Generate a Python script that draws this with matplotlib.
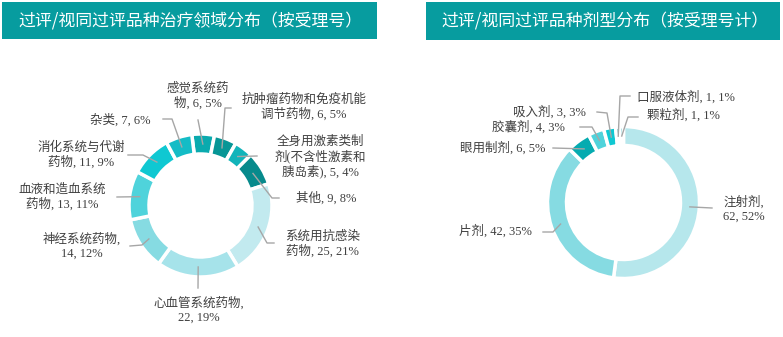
"""
    过评/视同过评品种分布：治疗领域 + 剂型，两个环形图
"""
import matplotlib.pyplot as plt
import numpy as np
from matplotlib.patches import Rectangle

plt.rcParams['font.family'] = ['Liberation Serif', 'Noto Sans CJK SC']

# 治疗领域（按受理号）
area_names = ["感觉系统药物", "抗肿瘤药物和免疫机能调节药物", "全身用激素类制剂(不含性激素和胰岛素)",
              "其他", "系统用抗感染药物", "心血管系统药物", "神经系统药物",
              "血液和造血系统药物", "消化系统与代谢药物", "杂类"]
area_counts = [6, 6, 5, 9, 25, 22, 14, 13, 11, 7]
area_colors = ["#0aaaae", "#079696", "#12b4ba", "#078a8c", "#c2eaef",
               "#a6e3ea", "#86dbe2", "#4fd3db", "#0fc8d2", "#14bcc6"]

# 剂型（按受理号计）
form_names = ["注射剂", "片剂", "眼用制剂", "胶囊剂", "吸入剂", "口服液体剂", "颗粒剂"]
form_counts = [62, 42, 6, 4, 3, 1, 1]
form_colors = ["#b6e7ec", "#86dbe2", "#05abb0", "#4fd3db", "#0fc8d2", "#0a9a9c", "#42b6bc"]

W, H = 783, 337
TEXT = "#404040"
LINE = "#a6a6a6"


def px(x, y):
    # pixel position (y from top) -> data coords
    return x, H - y


# label layout: text position, alignment, where the name wraps, leader path
area_layout = [
    ((198, 96), "center", "感觉系统药\n物", [(198, 120)]),
    ((304, 107), "center", "抗肿瘤药物和免疫机能\n调节药物", [(225, 108), (231, 108)]),
    ((320, 157), "center", "全身用激素类制\n剂(不含性激素和\n胰岛素)", [(257, 156)]),
    ((326, 198), "center", "其他", [(272, 198), (279, 198)]),
    ((285, 244), "left", "系统用抗感染\n药物", [(267, 243), (274, 243)]),
    ((199, 310), "center", "心血管系统药物,\n", [(198, 288)]),
    ((82, 246), "center", "神经系统药物,\n", [(142, 245), (130, 246)]),
    ((62, 197), "center", "血液和造血系统\n药物", [(117, 197)]),
    ((81, 155), "center", "消化系统与代谢\n药物", [(143, 155), (128, 155)]),
    ((120, 120), "center", "杂类", [(172, 119), (163, 119)]),
]
form_layout = [
    ((723, 209), "left", "注射剂,\n", [(712, 208)]),
    ((495, 231), "center", "片剂", [(553, 232), (543, 232)]),
    ((503, 148), "center", "眼用制剂", [(553, 148)]),
    ((528, 127), "center", "胶囊剂", [(592, 127), (580, 127)]),
    ((549, 112), "center", "吸入剂", [(607, 113), (597, 112)]),
    ((686, 97), "center", "口服液体剂", [(620, 96), (630, 96)]),
    ((683, 115), "center", "颗粒剂", [(628, 117), (638, 117)]),
]

fig = plt.figure(figsize=(W / 100, H / 100), dpi=100)
ax = fig.add_axes([0, 0, 1, 1])


def donut(counts, colors, layout, center, radius, width, start):
    cx, cy = px(*center)
    wedges, _ = ax.pie(counts, colors=colors, startangle=start, counterclock=False,
                       radius=radius, center=(cx, cy), frame=True,
                       wedgeprops=dict(width=width, edgecolor="white", linewidth=2.5))
    total = sum(counts)
    r_mid = radius - width / 2
    for w, n, (pos, ha, name, path) in zip(wedges, counts, layout):
        pct = round(n / total * 100)
        if name.endswith("\n"):
            label = f"{name}{n}, {pct}%"
        else:
            label = f"{name}, {n}, {pct}%"
        ang = np.deg2rad((w.theta1 + w.theta2) / 2)
        xs = [cx + r_mid * np.cos(ang)] + [px(*p)[0] for p in path]
        ys = [cy + r_mid * np.sin(ang)] + [px(*p)[1] for p in path]
        ax.plot(xs, ys, color=LINE, linewidth=1)
        tx, ty = px(*pos)
        ax.text(tx, ty, label, ha=ha, va="center", multialignment="center",
                fontsize=9, color=TEXT, linespacing=1.15)


donut(area_counts, area_colors, area_layout, (200.5, 205.5), 71.5, 20, 97)
donut(form_counts, form_colors, form_layout, (623.5, 202.5), 76, 19, 90)

# title bars
for (x0, x1, y0, y1), title, tx in [
        ((2, 377, 2, 38.5), "过评/视同过评品种治疗领域分布（按受理号）", 18),
        ((426, 780, 2, 39.5), "过评/视同过评品种剂型分布（按受理号计）", 441)]:
    ax.add_patch(Rectangle(px(x0, y1), x1 - x0, y1 - y0, facecolor="#079c9f",
                           edgecolor="none"))
    ax.text(*px(tx, (y0 + y1) / 2), title, ha="left", va="center", color="white",
            fontsize=12.2, family=["Noto Sans CJK SC"])

ax.set_xlim(0, W)
ax.set_ylim(0, H)
ax.set_aspect("equal")
ax.axis("off")

plt.savefig("out.png", dpi=100)
